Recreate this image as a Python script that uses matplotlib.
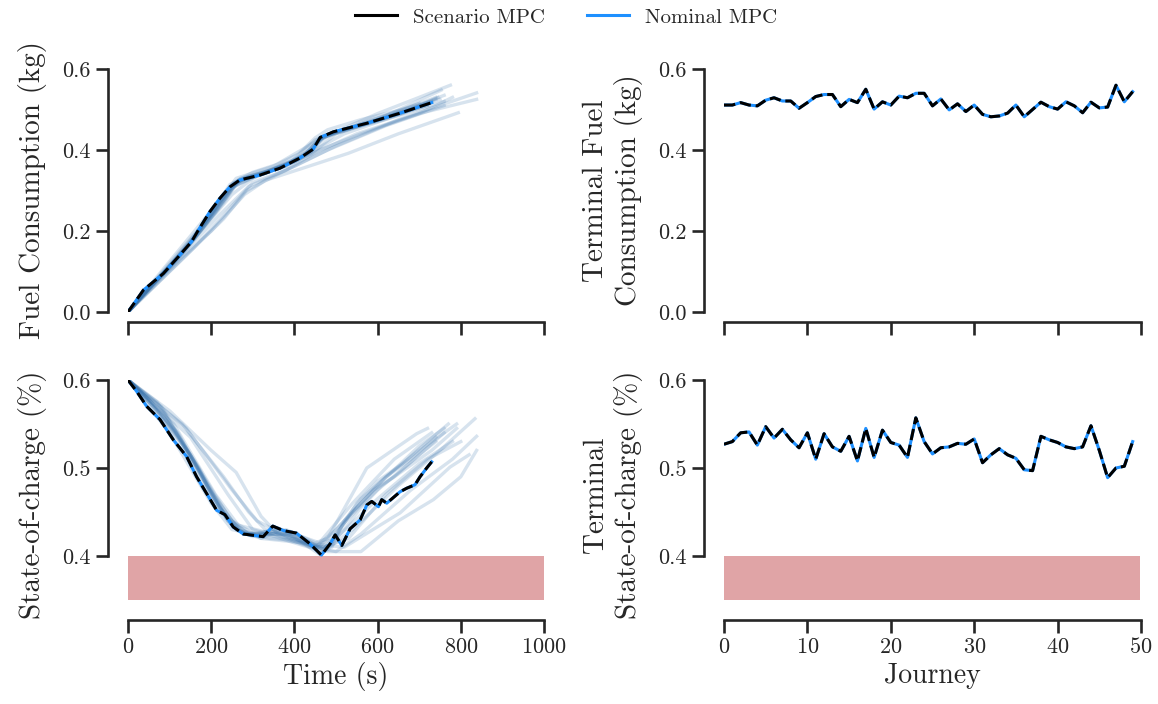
import numpy as np
import matplotlib
matplotlib.use("Agg")
import matplotlib.pyplot as plt
from matplotlib.lines import Line2D

# --- data ---
t_fuel = [0, 37, 85, 125, 153, 169, 197, 221, 245, 269, 317, 365, 413, 445, 462, 494, 574, 654, 730]
fuel_scen = [0, 0.054, 0.095, 0.141, 0.174, 0.202, 0.248, 0.281, 0.309, 0.326, 0.338, 0.355,
             0.380, 0.402, 0.431, 0.445, 0.466, 0.491, 0.517]
fuel_nom = list(fuel_scen)

t_soc = [0, 21, 45, 77, 109, 141, 165, 189, 213, 233, 253, 277, 309, 325, 348, 373, 405, 437,
         465, 486, 498, 514, 534, 558, 574, 586, 602, 610, 622, 654, 670, 690, 702, 718, 730]
soc_scen = [0.600, 0.587, 0.570, 0.555, 0.532, 0.513, 0.490, 0.471, 0.452, 0.447, 0.433, 0.425,
            0.423, 0.422, 0.434, 0.429, 0.426, 0.414, 0.401, 0.414, 0.424, 0.412, 0.431, 0.441,
            0.458, 0.462, 0.456, 0.464, 0.460, 0.473, 0.477, 0.481, 0.490, 0.500, 0.507]
soc_nom = list(soc_scen)

# other journeys (faint lines), (time, value) pairs
fuel_runs = [
    ([0, 100, 200, 260, 350, 450, 500, 600, 775], [0, 0.125, 0.25, 0.33, 0.36, 0.42, 0.445, 0.49, 0.56]),
    ([0, 130, 200, 280, 330, 420, 530, 650, 794], [0, 0.135, 0.20, 0.29, 0.325, 0.355, 0.392, 0.44, 0.492]),
    ([0, 120, 220, 290, 400, 500, 650, 838], [0, 0.13, 0.24, 0.31, 0.36, 0.41, 0.475, 0.541]),
    ([0, 150, 250, 300, 420, 550, 700, 838], [0, 0.17, 0.29, 0.33, 0.38, 0.44, 0.49, 0.525]),
    ([0, 100, 200, 260, 400, 470, 600, 753], [0, 0.12, 0.24, 0.32, 0.37, 0.43, 0.475, 0.548]),
    ([0, 140, 230, 285, 360, 480, 620, 760], [0, 0.14, 0.23, 0.30, 0.34, 0.40, 0.46, 0.51]),
    ([0, 90, 180, 250, 330, 440, 500, 640, 740], [0, 0.10, 0.215, 0.31, 0.345, 0.39, 0.44, 0.485, 0.525]),
    ([0, 110, 190, 255, 320, 420, 470, 600, 720], [0, 0.125, 0.22, 0.31, 0.34, 0.385, 0.435, 0.475, 0.51]),
    ([0, 160, 240, 300, 380, 460, 560, 700, 780], [0, 0.16, 0.25, 0.32, 0.35, 0.40, 0.44, 0.49, 0.53]),
    ([0, 80, 170, 240, 300, 410, 480, 620, 760], [0, 0.09, 0.20, 0.30, 0.335, 0.375, 0.435, 0.48, 0.535]),
    ([0, 60, 150, 230, 270, 380, 450, 560, 700], [0, 0.07, 0.17, 0.27, 0.33, 0.36, 0.425, 0.465, 0.515]),
    ([0, 120, 210, 265, 340, 430, 520, 660, 745], [0, 0.135, 0.245, 0.325, 0.35, 0.39, 0.44, 0.49, 0.53]),
    ([0, 40, 90, 130, 170, 200, 250, 280, 330, 400, 450, 470, 520, 600, 700, 760],
     [0, 0.05, 0.10, 0.145, 0.20, 0.245, 0.31, 0.33, 0.342, 0.375, 0.41, 0.435, 0.45, 0.47, 0.50, 0.52]),
    ([0, 50, 100, 150, 190, 230, 270, 320, 380, 440, 470, 540, 640, 720],
     [0, 0.06, 0.115, 0.17, 0.225, 0.28, 0.325, 0.34, 0.36, 0.395, 0.432, 0.455, 0.485, 0.51]),
    ([0, 35, 80, 120, 160, 210, 245, 290, 350, 420, 460, 500, 580, 680, 750],
     [0, 0.045, 0.09, 0.135, 0.185, 0.26, 0.315, 0.335, 0.35, 0.385, 0.425, 0.445, 0.47, 0.50, 0.525]),
    ([0, 60, 110, 160, 200, 240, 260, 310, 370, 430, 455, 490, 560, 650, 740],
     [0, 0.07, 0.12, 0.18, 0.235, 0.29, 0.32, 0.34, 0.36, 0.39, 0.425, 0.44, 0.465, 0.495, 0.53]),
    ([0, 45, 95, 140, 185, 215, 255, 300, 360, 410, 450, 480, 560, 660, 730],
     [0, 0.055, 0.105, 0.155, 0.215, 0.265, 0.32, 0.345, 0.365, 0.39, 0.43, 0.45, 0.475, 0.50, 0.52]),
]

soc_runs = [
    ([0, 100, 200, 250, 300, 400, 450, 500, 600, 700, 760], [.6, .54, .46, .43, .425, .42, .41, .43, .48, .525, .545]),
    ([0, 120, 220, 280, 400, 460, 520, 620, 700, 790], [.6, .54, .455, .425, .425, .41, .44, .49, .52, .55]),
    ([0, 150, 240, 300, 400, 470, 540, 650, 750, 834], [.6, .535, .47, .43, .415, .405, .43, .48, .52, .556]),
    ([0, 100, 200, 260, 320, 360, 450, 500, 560, 680, 780, 838], [.6, .565, .52, .495, .445, .425, .41, .405, .425, .475, .51, .536]),
    ([0, 130, 230, 290, 330, 420, 480, 560, 650, 734, 800, 838], [.6, .55, .49, .45, .43, .42, .405, .405, .44, .464, .49, .52]),
    ([0, 80, 180, 240, 280, 380, 450, 480, 574, 694, 720], [.6, .57, .49, .44, .425, .43, .415, .42, .50, .539, .545]),
    ([0, 110, 210, 265, 350, 440, 500, 600, 700, 780], [.6, .55, .47, .435, .425, .41, .42, .465, .505, .53]),
    ([0, 90, 190, 250, 320, 420, 520, 654, 774, 820], [.6, .56, .48, .44, .42, .415, .41, .449, .501, .515]),
    ([0, 70, 170, 235, 290, 400, 460, 540, 640, 730], [.6, .575, .50, .445, .425, .425, .415, .46, .51, .54]),
    ([0, 140, 250, 310, 390, 470, 530, 620, 720, 800], [.6, .545, .475, .44, .42, .41, .42, .47, .51, .53]),
    ([0, 30, 70, 110, 150, 190, 220, 250, 280, 330, 380, 430, 460, 490, 520, 560, 600, 650, 700, 740],
     [.6, .585, .565, .54, .515, .48, .455, .435, .425, .425, .425, .415, .405, .415, .43, .455, .475, .495, .515, .53]),
    ([0, 40, 80, 120, 160, 200, 230, 260, 300, 350, 400, 440, 470, 500, 540, 590, 640, 700, 760],
     [.6, .58, .56, .535, .505, .47, .45, .43, .422, .428, .42, .412, .408, .425, .45, .475, .49, .515, .54]),
    ([0, 25, 60, 100, 140, 180, 210, 245, 290, 340, 390, 450, 480, 510, 550, 600, 660, 720, 770],
     [.6, .59, .57, .545, .52, .485, .46, .44, .425, .42, .418, .41, .41, .43, .46, .485, .505, .53, .55]),
    ([0, 50, 90, 130, 170, 200, 240, 270, 320, 370, 420, 460, 490, 520, 560, 620, 680, 740],
     [.6, .578, .555, .53, .5, .47, .44, .428, .42, .43, .415, .402, .41, .44, .465, .49, .51, .535]),
    ([0, 35, 75, 115, 155, 195, 235, 265, 310, 360, 410, 455, 485, 515, 555, 610, 670, 730, 790],
     [.6, .585, .565, .54, .51, .48, .45, .43, .425, .432, .42, .41, .412, .435, .455, .48, .50, .52, .545]),
]

journeys = np.arange(50)
term_fuel = [0.511, 0.511, 0.517, 0.511, 0.509, 0.523, 0.529, 0.521, 0.521, 0.503,
             0.517, 0.532, 0.537, 0.537, 0.507, 0.525, 0.517, 0.550, 0.501, 0.519,
             0.511, 0.533, 0.529, 0.540, 0.540, 0.509, 0.526, 0.499, 0.514, 0.495,
             0.511, 0.488, 0.482, 0.484, 0.491, 0.511, 0.482, 0.500, 0.518, 0.507,
             0.501, 0.519, 0.509, 0.492, 0.518, 0.504, 0.506, 0.560, 0.519, 0.544]
term_soc = [0.527, 0.530, 0.540, 0.541, 0.526, 0.547, 0.534, 0.544, 0.532, 0.523,
            0.540, 0.510, 0.539, 0.524, 0.519, 0.536, 0.508, 0.545, 0.512, 0.543,
            0.529, 0.526, 0.512, 0.557, 0.530, 0.516, 0.523, 0.524, 0.528, 0.527,
            0.533, 0.506, 0.515, 0.522, 0.515, 0.511, 0.498, 0.497, 0.536, 0.532,
            0.529, 0.524, 0.522, 0.524, 0.548, 0.520, 0.489, 0.500, 0.502, 0.530]

soc_min, soc_bound = 0.35, 0.40

# --- style ---
plt.rcParams['font.family'] = ['cmr10', 'DejaVu Serif']
plt.rcParams['axes.formatter.use_mathtext'] = True
plt.rcParams['mathtext.fontset'] = 'cm'
ink = '#262626'
plt.rcParams['text.color'] = ink
plt.rcParams['axes.labelcolor'] = ink
plt.rcParams['xtick.color'] = ink
plt.rcParams['ytick.color'] = ink

W, H = 1158, 704
fig = plt.figure(figsize=(W / 100, H / 100), dpi=100)


def make_ax(x0, x1, ytop, ybot):
    return fig.add_axes([x0 / W, 1 - ybot / H, (x1 - x0) / W, (ybot - ytop) / H])


ax_fuel = make_ax(128, 544, 69, 312)
ax_soc = make_ax(128, 544, 380, 608.8)
ax_tf = make_ax(724, 1141, 69, 312)
ax_ts = make_ax(724, 1141, 380, 608.8)

blue_faint = '#3a74ad'
nom_blue = '#1e90ff'
band_red = '#e0a4a6'

for t, v in fuel_runs:
    ax_fuel.plot(t, v, color=blue_faint, alpha=0.2, lw=2.4)
for t, v in soc_runs:
    ax_soc.plot(t, v, color=blue_faint, alpha=0.2, lw=2.4)

ax_fuel.plot(t_fuel, fuel_nom, color=nom_blue, lw=2.2)
ax_fuel.plot(t_fuel, fuel_scen, color='black', lw=2.2, ls='--')
ax_soc.plot(t_soc, soc_nom, color=nom_blue, lw=2.2)
ax_soc.plot(t_soc, soc_scen, color='black', lw=2.2, ls='--')
ax_soc.fill_between([0, 1000], soc_min, soc_bound, color=band_red, lw=0)

ax_tf.plot(journeys, term_fuel, color=nom_blue, lw=2.2)
ax_tf.plot(journeys, term_fuel, color='black', lw=2.2, ls='--')
ax_ts.plot(journeys, term_soc, color=nom_blue, lw=2.2)
ax_ts.plot(journeys, term_soc, color='black', lw=2.2, ls='--')
ax_ts.fill_between([0, 49.9], soc_min, soc_bound, color=band_red, lw=0)

for ax in [ax_fuel, ax_soc]:
    ax.set_xlim(0, 1000)
    ax.set_xticks([0, 200, 400, 600, 800, 1000])
for ax in [ax_tf, ax_ts]:
    ax.set_xlim(0, 50)
    ax.set_xticks([0, 10, 20, 30, 40, 50])
for ax in [ax_fuel, ax_tf]:
    ax.set_ylim(0, 0.6)
    ax.set_yticks([0.0, 0.2, 0.4, 0.6])
    ax.set_yticklabels(['0.0', '0.2', '0.4', '0.6'])
    ax.tick_params(axis='x', labelbottom=False)
    ax.spines['bottom'].set_position(('outward', 7.2))
    ax.spines['left'].set_bounds(0, 0.6)
for ax in [ax_soc, ax_ts]:
    ax.set_ylim(0.34, 0.6)
    ax.set_yticks([0.4, 0.5, 0.6])
    ax.set_yticklabels(['0.4', '0.5', '0.6'])
    ax.spines['bottom'].set_position(('outward', 8))
    ax.spines['left'].set_bounds(0.4, 0.6)

for ax in [ax_fuel, ax_soc, ax_tf, ax_ts]:
    ax.patch.set_alpha(0)
    ax.spines['top'].set_visible(False)
    ax.spines['right'].set_visible(False)
    ax.spines['left'].set_position(('outward', 14.4))
    for s in ['left', 'bottom']:
        ax.spines[s].set_linewidth(1.9)
        ax.spines[s].set_color(ink)
    ax.tick_params(length=9, width=1.9, labelsize=16)
ax_fuel.spines['bottom'].set_bounds(0, 1000)
ax_soc.spines['bottom'].set_bounds(0, 1000)
ax_tf.spines['bottom'].set_bounds(0, 50)
ax_ts.spines['bottom'].set_bounds(0, 50)

ax_fuel.set_ylabel('Fuel Consumption (kg)', fontsize=21, labelpad=11)
ax_soc.set_ylabel('State-of-charge (%)', fontsize=21, labelpad=11)
ax_tf.set_ylabel('Terminal Fuel\nConsumption (kg)', fontsize=21, labelpad=11)
ax_ts.set_ylabel('Terminal\nState-of-charge (%)', fontsize=21, labelpad=11)
ax_soc.set_xlabel('Time (s)', fontsize=20)
ax_ts.set_xlabel('Journey', fontsize=20)

handles = [Line2D([], [], color='black', lw=2.2), Line2D([], [], color=nom_blue, lw=2.2)]
fig.legend(handles, ['Scenario MPC', 'Nominal MPC'], loc='upper center', ncol=2,
           frameon=False, fontsize=15, bbox_to_anchor=(0.489, 1.015), columnspacing=2.0)

fig.savefig('out.png', dpi=100)
